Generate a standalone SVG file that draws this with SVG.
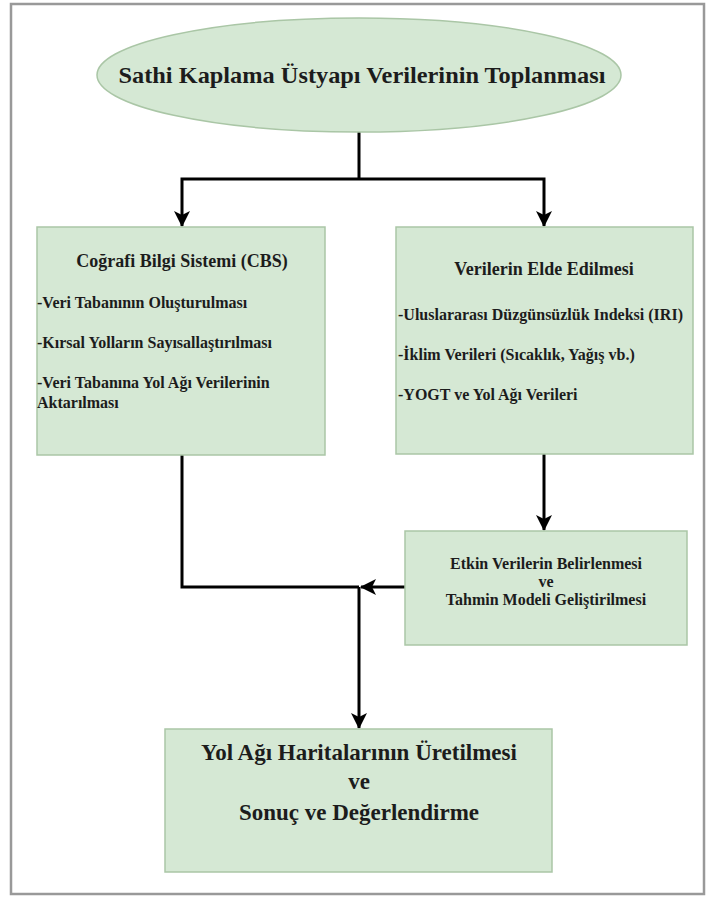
<svg xmlns="http://www.w3.org/2000/svg" width="710" height="897" viewBox="0 0 710 897">
<defs>
<style>
.node{fill:#d5e8d4;stroke:#aac6a6;stroke-width:1.5}
.t{font-family:"Liberation Serif","Times New Roman",serif;font-weight:bold;fill:#1c1c1c}
.c{text-anchor:middle}
.h{font-size:18px}
.i{font-size:16px}
.conn{fill:none;stroke:#000;stroke-width:3}
</style>
<marker id="arr" markerUnits="userSpaceOnUse" markerWidth="16" markerHeight="16" refX="15" refY="8" orient="auto">
<path d="M0,0 L16,8 L0,16 L4,8 Z" fill="#000"/>
</marker>
</defs>
<rect x="0" y="0" width="710" height="897" fill="#fff"/>
<rect x="11" y="4" width="693" height="890" fill="none" stroke="#999" stroke-width="2.5"/>

<g id="connectors">
<path class="conn" d="M359,132 V179"/>
<path class="conn" d="M359,179 H182 V226" marker-end="url(#arr)"/>
<path class="conn" d="M359,179 H544 V226" marker-end="url(#arr)"/>
<path class="conn" d="M544,454 V530" marker-end="url(#arr)"/>
<path class="conn" d="M182,455 V587 H359"/>
<path class="conn" d="M405,587 H361" marker-end="url(#arr)"/>
<path class="conn" d="M359,587 V728" marker-end="url(#arr)"/>
</g>

<g id="n-title">
<ellipse class="node" cx="359" cy="75" rx="262" ry="57"/>
<text class="t c" x="362" y="83" font-size="24" textLength="487" lengthAdjust="spacingAndGlyphs">Sathi Kaplama Üstyapı Verilerinin Toplanması</text>
</g>

<g id="n-cbs">
<rect class="node" x="37" y="227" width="288" height="228"/>
<text class="t h c" x="182" y="267">Coğrafi Bilgi Sistemi (CBS)</text>
<text class="t i" x="37" y="308">-Veri Tabanının Oluşturulması</text>
<text class="t i" x="37" y="348">-Kırsal Yolların Sayısallaştırılması</text>
<text class="t i" x="37" y="388">-Veri Tabanına Yol Ağı Verilerinin</text>
<text class="t i" x="37" y="408">Aktarılması</text>
</g>

<g id="n-veri">
<rect class="node" x="396" y="227" width="297" height="227"/>
<text class="t h c" x="544" y="275">Verilerin Elde Edilmesi</text>
<text class="t i" x="398" y="320">-Uluslararası Düzgünsüzlük Indeksi (IRI)</text>
<text class="t i" x="398" y="360">-İklim Verileri (Sıcaklık, Yağış vb.)</text>
<text class="t i" x="398" y="400">-YOGT ve Yol Ağı Verileri</text>
</g>

<g id="n-etkin">
<rect class="node" x="405" y="531" width="282" height="114"/>
<text class="t i c" x="546" y="569">Etkin Verilerin Belirlenmesi</text>
<text class="t i c" x="546" y="587">ve</text>
<text class="t i c" x="546" y="605">Tahmin Modeli Geliştirilmesi</text>
</g>

<g id="n-sonuc">
<rect class="node" x="165" y="729" width="387" height="143"/>
<text class="t c" x="359" y="760" font-size="23">Yol Ağı Haritalarının Üretilmesi</text>
<text class="t c" x="359" y="789" font-size="23">ve</text>
<text class="t c" x="359" y="820" font-size="23">Sonuç ve Değerlendirme</text>
</g>
</svg>
